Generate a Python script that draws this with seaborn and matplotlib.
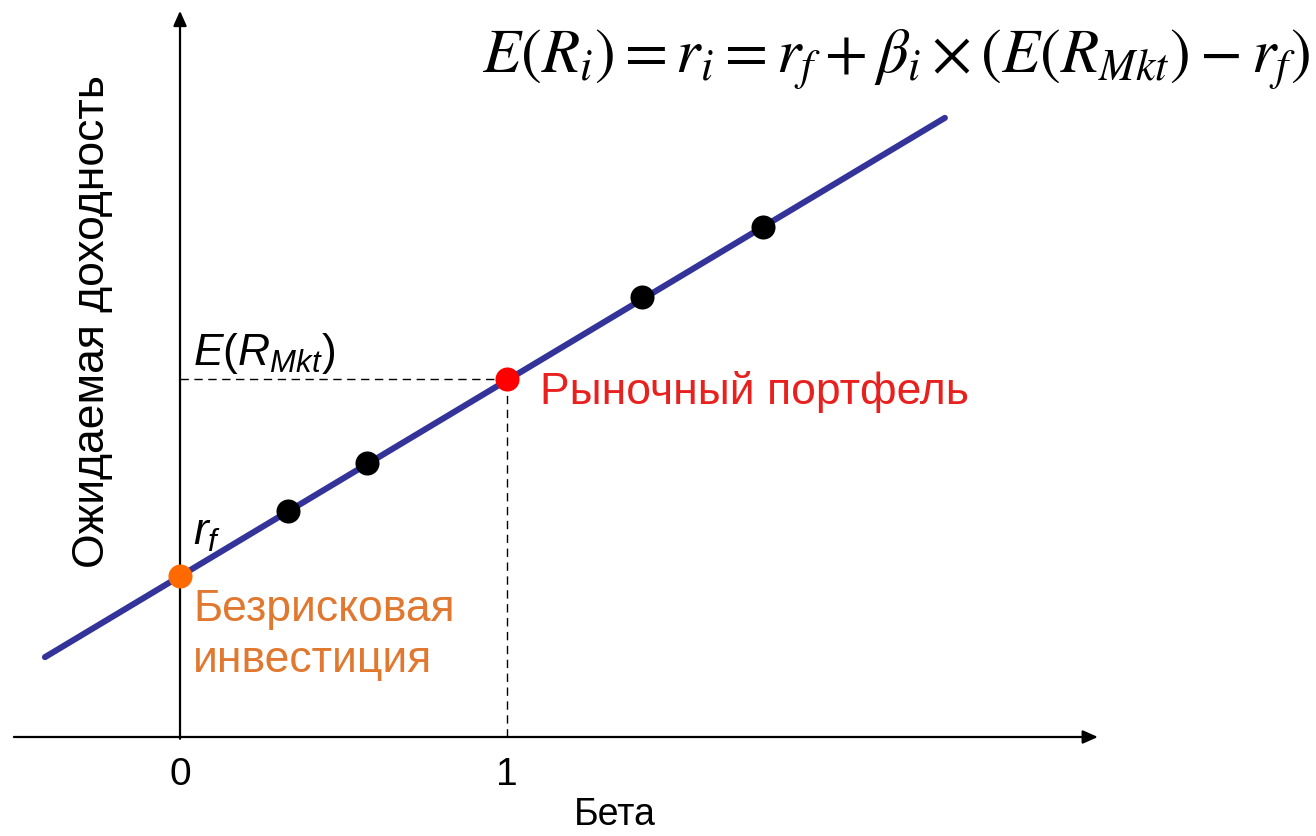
import matplotlib
matplotlib.use("Agg")
import matplotlib.pyplot as plt
import seaborn as sns
import pandas as pd

# Security market line (beta vs expected return)
line_beta = [-0.413, 2.339]
line_ret = [2.23, 17.29]

rf_beta, rf_ret = 0.0, 4.5
mkt_beta, mkt_ret = 1.0, 10.0

asset_beta = [0.330, 0.572, 1.413, 1.783]
asset_ret = [6.31, 7.65, 12.29, 14.25]

tick_pos = [0, 1]
tick_labels = ["0", "1"]

sns.set_style("white")
plt.rcParams["font.family"] = ["Liberation Sans", "DejaVu Sans"]
plt.rcParams["text.color"] = "black"
plt.rcParams["mathtext.fontset"] = "custom"
plt.rcParams["mathtext.rm"] = "Liberation Sans"
plt.rcParams["mathtext.it"] = "Liberation Sans:italic"

fig = plt.figure(figsize=(13.16, 8.37), dpi=100)
ax = fig.add_axes([0, 0, 1, 1])
ax.set_xlim(-0.5505, 3.474)
ax.set_ylim(-2.765, 20.61)

# axes with arrows
ax.annotate("", xy=(2.807, 0), xytext=(-0.508, 0),
            arrowprops=dict(arrowstyle="-|>,head_length=0.9,head_width=0.4",
                            color="black", lw=1.6, shrinkA=0, shrinkB=0))
ax.annotate("", xy=(0, 20.28), xytext=(0, -0.05),
            arrowprops=dict(arrowstyle="-|>,head_length=0.9,head_width=0.4",
                            color="black", lw=1.6, shrinkA=0, shrinkB=0))

# dashed guides to the market portfolio
ax.plot([0, mkt_beta], [mkt_ret, mkt_ret], color="black", lw=1.0, ls=(0, (6, 4)))
ax.plot([mkt_beta, mkt_beta], [0, mkt_ret], color="black", lw=1.0, ls=(0, (6, 4)))

sml = pd.DataFrame({"beta": line_beta, "ret": line_ret})
sns.lineplot(data=sml, x="beta", y="ret", ax=ax, color="#33339a", lw=4.4,
             solid_capstyle="round")

assets = pd.DataFrame({"beta": asset_beta, "ret": asset_ret})
sns.scatterplot(data=assets, x="beta", y="ret", ax=ax, color="black", s=300,
                linewidth=0, zorder=5)
sns.scatterplot(x=[rf_beta], y=[rf_ret], ax=ax, color="#ff6a00", s=300,
                linewidth=0, zorder=5)
sns.scatterplot(x=[mkt_beta], y=[mkt_ret], ax=ax, color="#ff0000", s=300,
                linewidth=0, zorder=5)
ax.axis("off")

# tick labels and axis titles
for p, t in zip(tick_pos, tick_labels):
    ax.text(p, -1.03, t, ha="center", va="center", fontsize=28)
ax.text(1.33, -2.15, "Бета", ha="center", va="center", fontsize=27)
ax.text(-0.269, 11.62, "Ожидаемая доходность", ha="center", va="center",
        rotation=90, fontsize=32)

# annotations
ax.text(0.04, 10.75, r"$E(R_{Mkt})$", ha="left", va="center", fontsize=32)
ax.text(0.04, 5.7, r"$r_f$", ha="left", va="center", fontsize=32)
ax.text(0.04, 2.88, "Безрисковая\nинвестиция", ha="left", va="center",
        fontsize=32, color="#e07830", linespacing=1.3)
ax.text(1.10, 9.66, "Рыночный портфель", ha="left", va="center",
        fontsize=32, color="#e8201e")

ax.text(3.456, 18.94,
        r"$E(R_i) = r_i = r_f + \beta_i \times \left(E(R_{Mkt}) - r_f\right)$",
        ha="right", va="center", fontsize=45, math_fontfamily="stix")

fig.savefig("out.png", dpi=100)
